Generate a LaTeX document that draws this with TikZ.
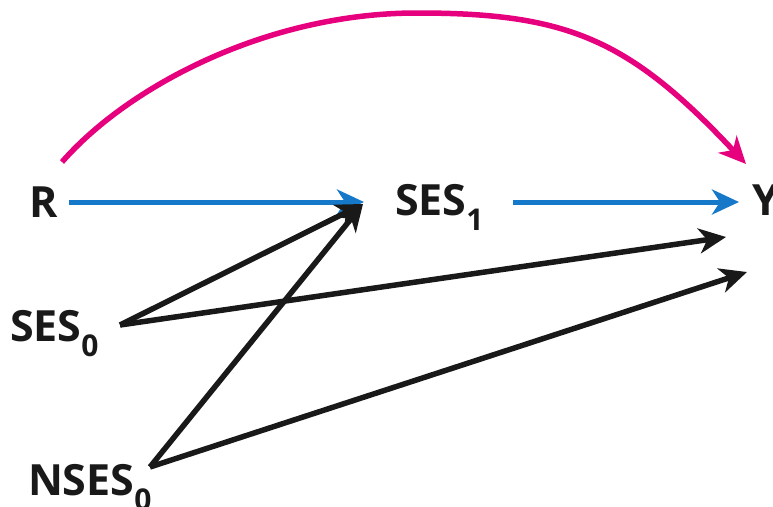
\documentclass[tikz,border=0pt]{standalone}
\usepackage{fontspec}
\setmainfont{Open Sans}
\usetikzlibrary{arrows.meta,calc}
\definecolor{dagblue}{RGB}{22,120,200}
\definecolor{dagpink}{RGB}{230,0,126}
\definecolor{dagblack}{RGB}{25,25,25}
\newcommand{\lowsub}[1]{\smash{\raisebox{-15pt}{\fontsize{30}{30}\selectfont #1}}}
\begin{document}
\begin{tikzpicture}[x=1pt,y=-1pt,
  lbl/.style={inner sep=0pt, outer sep=0pt, anchor=west,
    font=\fontsize{43}{43}\selectfont\bfseries, text=dagblack},
  tipshape/.style={-{Stealth[length=27pt,width=25pt,inset=8pt]}},
  blackedge/.style={tipshape, draw=dagblack, line width=5.5pt},
  blueedge/.style={tipshape, draw=dagblue, line width=5pt},
  pinkedge/.style={tipshape, draw=dagpink, line width=5.5pt}]
\useasboundingbox (0,0) rectangle (773,506);

% nodes
\node[lbl] (R)     at (29,202)   {R};
\node[lbl] (SES1)  at (395,200)  {SES\lowsub{1}};
\node[lbl] (Y)     at (752,200)  {Y};
\node[lbl] (SES0)  at (10,326)   {SES\lowsub{0}};
\node[lbl] (NSES0) at (28,480)   {NSES\lowsub{0}};

% connector end points
\coordinate (Rout)   at (69,202);
\coordinate (Rtop)   at (62,162);
\coordinate (S1in)   at (364,202);
\coordinate (S1inb)  at (363,204);
\coordinate (S1out)  at (513,202);
\coordinate (Yin)    at (739,202);
\coordinate (Ytop)   at (746,164);
\coordinate (Yin1)   at (726,237);
\coordinate (Yin2)   at (747,272);
\coordinate (S0out)  at (120,325);
\coordinate (N0out)  at (150,467);
\coordinate (peak)   at (417,13);

% connectors
\draw[pinkedge] (Rtop) .. controls (128,86.5) and (267,13) .. (peak)
                       .. controls (567,13) and (629,39) .. (Ytop);
\draw[blueedge] (Rout) -- (S1in);
\draw[blueedge] (S1out) -- (Yin);
\draw[blackedge] (S0out) -- (S1inb);
\draw[blackedge] (S0out) -- (Yin1);
\draw[blackedge] (N0out) -- (S1inb);
\draw[blackedge] (N0out) -- (Yin2);
\end{tikzpicture}
\end{document}
